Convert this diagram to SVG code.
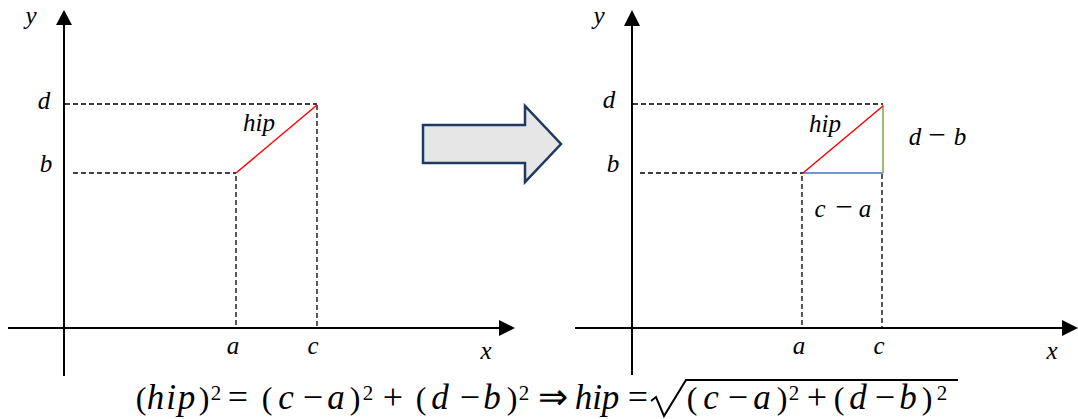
<svg xmlns="http://www.w3.org/2000/svg" width="1078" height="419" viewBox="0 0 1078 419">
<style>
.ax{stroke:#000;stroke-width:2;fill:none}
.ah{fill:#000;stroke:none}
.dash{stroke:#000;stroke-width:1.3;stroke-dasharray:5 3;fill:none}
.lbl{font-family:"Liberation Serif","Times New Roman",serif;font-style:italic;font-size:25px;fill:#000;text-anchor:middle}
.up{font-style:normal;font-size:31px}
.f{font-family:"Liberation Serif","Times New Roman",serif;font-size:32px;fill:#000;text-anchor:middle}
.op{font-size:36px}
.v{font-style:italic;font-size:35px}
.sup{font-size:21px}
</style>
<rect width="1078" height="419" fill="#fff"/>

<g id="left-graph">
  <line class="ax" x1="64" y1="376" x2="64" y2="24"/>
  <polygon class="ah" points="64,10 56,25 72,25"/>
  <line class="ax" x1="8" y1="328" x2="500" y2="328"/>
  <polygon class="ah" points="515,328 499,320 499,336"/>
  <line class="dash" x1="65" y1="104" x2="317" y2="104"/>
  <line class="dash" x1="73" y1="173" x2="236" y2="173"/>
  <line class="dash" x1="236" y1="176" x2="236" y2="328"/>
  <line class="dash" x1="317" y1="105" x2="317" y2="328"/>
  <line x1="236" y1="173" x2="317" y2="105" stroke="#ff0000" stroke-width="1.5"/>
  <text class="lbl" x="31" y="24">y</text>
  <text class="lbl" x="44" y="109">d</text>
  <text class="lbl" x="46" y="172">b</text>
  <text class="lbl" x="259" y="131">hip</text>
  <text class="lbl" x="233" y="354">a</text>
  <text class="lbl" x="313" y="354">c</text>
  <text class="lbl" x="486" y="359">x</text>
</g>

<g id="transform-arrow">
  <polygon points="423,125 525,125 525,106 561,144 525,182 525,163 423,163" fill="#e7e6e6" stroke="#1f3864" stroke-width="2.5" stroke-linejoin="miter"/>
</g>

<g id="right-graph">
  <line class="ax" x1="632" y1="375" x2="632" y2="24"/>
  <polygon class="ah" points="632,10 624,26 640,26"/>
  <line class="ax" x1="575" y1="328" x2="1064" y2="328"/>
  <polygon class="ah" points="1078,328 1062,320 1062,336"/>
  <line class="dash" x1="633" y1="104" x2="883" y2="104"/>
  <line class="dash" x1="640" y1="173" x2="803" y2="173"/>
  <line class="dash" x1="802" y1="176" x2="802" y2="328"/>
  <line class="dash" x1="882" y1="174" x2="882" y2="328"/>
  <line x1="803" y1="173" x2="883" y2="173" stroke="#4472c4" stroke-width="1.5"/>
  <line x1="883" y1="105" x2="883" y2="173" stroke="#70ad47" stroke-width="1.5"/>
  <line x1="803" y1="173" x2="883" y2="106" stroke="#ff0000" stroke-width="1.5"/>
  <text class="lbl" x="599" y="24">y</text>
  <text class="lbl" x="609" y="108">d</text>
  <text class="lbl" x="613" y="172">b</text>
  <text class="lbl" x="825" y="132">hip</text>
  <text class="lbl" y="145"><tspan x="915">d</tspan><tspan class="up" x="937">−</tspan><tspan x="960">b</tspan></text>
  <text class="lbl" y="217"><tspan x="820">c</tspan><tspan class="up" x="844">−</tspan><tspan x="865">a</tspan></text>
  <text class="lbl" x="799" y="354">a</text>
  <text class="lbl" x="879" y="354">c</text>
  <text class="lbl" x="1052" y="359">x</text>
</g>

<g id="formula" class="f">
  <text x="141" y="409">(</text>
  <text class="v" x="172" y="409" letter-spacing="2">hip</text>
  <text x="204" y="409">)</text>
  <text class="sup" x="216" y="400">2</text>
  <text class="op" x="238" y="409">=</text>
  <text x="267" y="409">(</text>
  <text class="v" x="286" y="409">c</text>
  <text class="op" x="313" y="409">−</text>
  <text class="v" x="336" y="409">a</text>
  <text x="355" y="409">)</text>
  <text class="sup" x="368" y="400">2</text>
  <text class="op" x="393" y="409">+</text>
  <text x="421" y="409">(</text>
  <text class="v" x="440" y="409">d</text>
  <text class="op" x="470" y="409">−</text>
  <text class="v" x="492" y="409">b</text>
  <text x="512" y="409">)</text>
  <text class="sup" x="524" y="400">2</text>
  <text class="op" x="553" y="409">⇒</text>
  <text class="v" x="597" y="409">hip</text>
  <text class="op" x="638" y="409">=</text>
  <text x="692" y="409">(</text>
  <text class="v" x="711" y="409">c</text>
  <text class="op" x="738" y="409">−</text>
  <text class="v" x="762" y="409">a</text>
  <text x="782" y="409">)</text>
  <text class="sup" x="794" y="400">2</text>
  <text class="op" x="817" y="409">+</text>
  <text x="839" y="409">(</text>
  <text class="v" x="858" y="409">d</text>
  <text class="op" x="885" y="409">−</text>
  <text class="v" x="908" y="409">b</text>
  <text x="927" y="409">)</text>
  <text class="sup" x="942" y="400">2</text>
  <path d="M651,401 L656,397 L664,416 L686,380 L958,380" fill="none" stroke="#000" stroke-width="2" stroke-linejoin="miter"/>
</g>
</svg>
